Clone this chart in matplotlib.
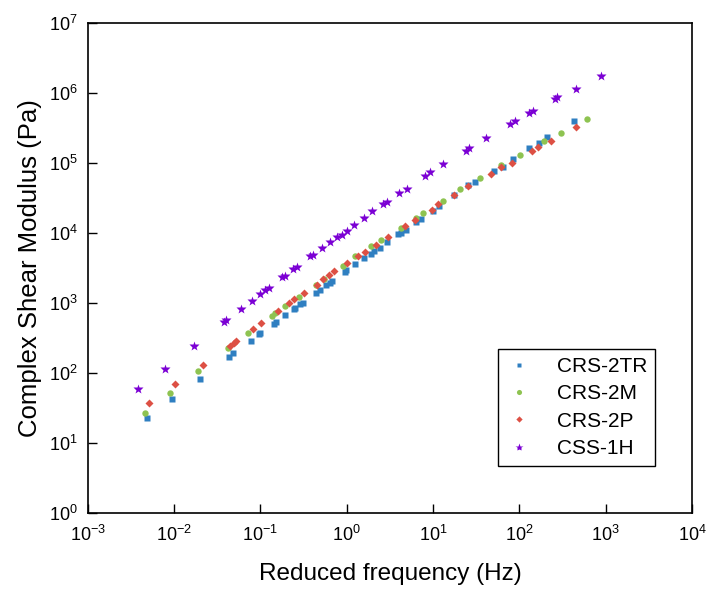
#!/usr/bin/env python3
"""Master curves of complex shear modulus vs reduced frequency."""
import matplotlib

matplotlib.use("Agg", force=True)
import matplotlib.pyplot as plt

# CRS-2TR
freq_2tr = [0.0049, 0.0095, 0.020, 0.0437, 0.0479, 0.0776, 0.0955, 0.100, 0.145, 0.151,
            0.195, 0.245, 0.251, 0.288, 0.309, 0.437, 0.490, 0.575, 0.646, 0.676,
            0.955, 0.977, 1.26, 1.58, 1.91, 2.09, 2.40, 2.95, 3.89, 4.27,
            4.90, 6.31, 7.24, 10.0, 11.7, 17.4, 25.1, 30.2, 50.1, 64.6,
            83.2, 129, 170, 209, 427]
mod_2tr = [23, 43, 83, 170, 191, 288, 355, 372, 501, 537,
           676, 813, 851, 955, 1000, 1380, 1510, 1780, 1950, 2090,
           2750, 2950, 3550, 4370, 5010, 5500, 6170, 7410, 9550, 10000,
           11200, 14500, 15800, 20900, 24000, 34700, 47900, 53700, 77600, 89100,
           115000, 162000, 195000, 240000, 407000]

# CRS-2M
freq_2m = [0.0046, 0.0091, 0.019, 0.0427, 0.0724, 0.138, 0.148, 0.191, 0.282, 0.437,
           0.550, 0.912, 1.26, 1.91, 2.51, 4.27, 6.31, 7.59, 12.9, 20.4,
           34.7, 61.7, 102, 195, 302, 603]
mod_2m = [27, 52, 105, 224, 372, 661, 724, 891, 1230, 1820,
          2190, 3390, 4680, 6460, 7940, 11700, 16200, 19500, 28800, 42700,
          61700, 93300, 132000, 209000, 269000, 427000]

# CRS-2P
freq_2p = [0.0051, 0.0102, 0.0214, 0.0447, 0.049, 0.0525, 0.0813, 0.101, 0.162, 0.214,
           0.245, 0.324, 0.447, 0.525, 0.617, 0.708, 1.02, 1.35, 1.62, 2.19,
           3.02, 4.68, 6.17, 9.77, 11.5, 17.4, 25.1, 46.8, 61.7, 81.3,
           138, 166, 229, 457]
mod_2p = [37, 69, 129, 245, 269, 288, 427, 513, 759, 1000,
          1150, 1410, 1820, 2190, 2510, 2820, 3720, 4680, 5370, 6760,
          8910, 12600, 15500, 21400, 25700, 34700, 46800, 70800, 87100, 102000,
          151000, 170000, 209000, 324000]

# CSS-1H
freq_1h = [0.0038, 0.0078, 0.017, 0.038, 0.040, 0.060, 0.079, 0.100, 0.112, 0.126,
           0.178, 0.195, 0.240, 0.269, 0.380, 0.407, 0.513, 0.638, 0.776, 0.871,
           1.0, 1.20, 1.58, 1.95, 2.63, 2.95, 4.07, 5.01, 8.13, 9.33,
           12.9, 24.0, 26.3, 40.7, 77.6, 89.1, 129, 145, 257, 269,
           457, 891]
mod_1h = [58, 115, 245, 537, 562, 832, 1070, 1350, 1510, 1660,
          2340, 2450, 3090, 3310, 4680, 4900, 6170, 7410, 8910, 9330,
          10700, 13200, 16600, 20400, 25700, 28200, 37200, 42700, 64600, 74100,
          97700, 151000, 162000, 229000, 363000, 398000, 513000, 550000, 832000, 871000,
          1150000, 1780000]

x_ticks = [1e-3, 1e-2, 1e-1, 1e0, 1e1, 1e2, 1e3, 1e4]
y_ticks = [1e0, 1e1, 1e2, 1e3, 1e4, 1e5, 1e6, 1e7]

plt.rcParams["font.family"] = ["Liberation Sans", "DejaVu Sans"]
plt.rcParams["mathtext.fontset"] = "custom"
plt.rcParams["mathtext.rm"] = "Liberation Sans"
plt.rcParams["mathtext.it"] = "Liberation Sans"
plt.rcParams["mathtext.default"] = "regular"
plt.rcParams["axes.unicode_minus"] = False

fig = plt.figure(figsize=(7.07, 5.90), dpi=100)
ax = fig.add_axes([0.124, 0.131, 0.855, 0.8295])

ax.plot(freq_2tr, mod_2tr, "s", ms=4.0, color="#2f7fc1", mec="none", label="CRS-2TR")
ax.plot(freq_2m, mod_2m, "o", ms=4.6, color="#8ec351", mec="none", label="CRS-2M")
ax.plot(freq_2p, mod_2p, "D", ms=4.0, color="#dd5044", mec="none", label="CRS-2P")
ax.plot(freq_1h, mod_1h, "*", ms=7.5, color="#7b00d4", mec="none", label="CSS-1H")

ax.set_xscale("log")
ax.set_yscale("log")
ax.set_xticks(x_ticks)
ax.set_yticks(y_ticks)
ax.set_xlim(1e-3, 1e4)
ax.set_ylim(1e0, 1e7)
ax.minorticks_off()
ax.tick_params(which="major", direction="in", length=6.5, width=1.0,
               labelsize=13, top=False, right=False)
ax.tick_params(axis="x", pad=9)
ax.tick_params(axis="y", pad=7)
for sp in ax.spines.values():
    sp.set_linewidth(1.2)

ax.set_xlabel("Reduced frequency (Hz)", fontsize=17.5, labelpad=13)
ax.set_ylabel("Complex Shear Modulus (Pa)", fontsize=18.5, labelpad=5)

leg = ax.legend(loc="lower right", bbox_to_anchor=(0.939, 0.095), borderaxespad=0,
                fontsize=15, fancybox=False, edgecolor="black", framealpha=1,
                markerscale=0.8, handlelength=1.2, handletextpad=1.2,
                labelspacing=0.4, borderpad=0.4)
leg.get_frame().set_linewidth(1.0)

fig.savefig("out.png", dpi=100)
